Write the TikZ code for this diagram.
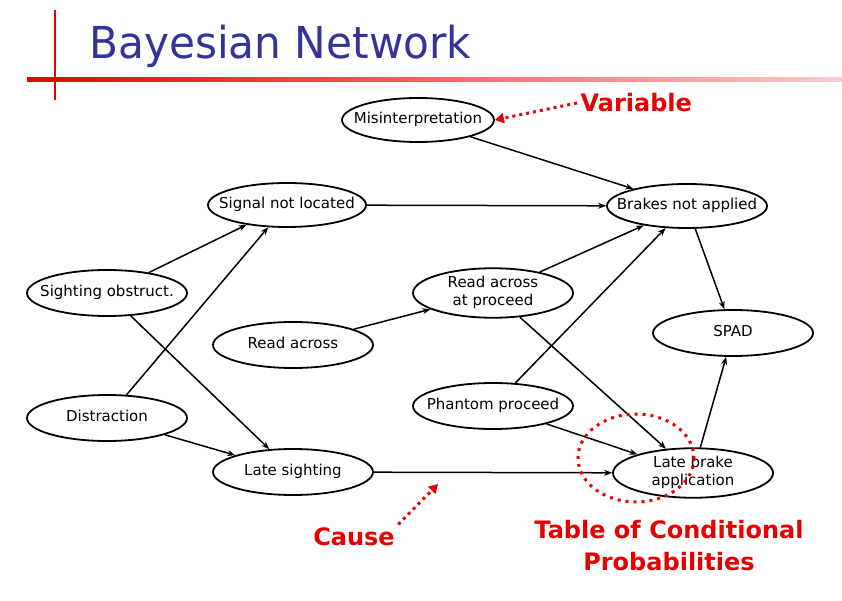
\documentclass[tikz,border=0pt]{standalone}
\usepackage{fontspec}
\setmainfont{DejaVu Sans}
\usetikzlibrary{shapes.geometric,arrows.meta}
\definecolor{ttl}{RGB}{51,51,153}
\definecolor{ared}{RGB}{230,0,0}
\newcommand{\zw}[1]{\makebox[0pt]{\begin{tabular}{@{}c@{}}#1\end{tabular}}}
\tikzset{
  var/.style={draw,ellipse,line width=1.8pt,minimum width=160pt,minimum height=46pt,inner sep=0pt,font=\fontsize{15}{17.5}\selectfont},
  edge/.style={line width=1.5pt,-{Stealth[length=8pt,width=6pt]}},
  note/.style={text=ared,font=\bfseries\fontsize{24}{32}\selectfont,align=center},
  redarrow/.style={ared,line width=3pt,dash pattern=on 3pt off 4pt,-{Triangle[length=9pt,width=10pt]}}
}
\begin{document}
\begin{tikzpicture}[x=1pt,y=-1pt]
\useasboundingbox (0,0) rectangle (842,601);
% title decoration
\shade[left color=ared,right color=ared!20,middle color=ared!60] (27,78) rectangle (842,82);
\draw[ared,line width=2pt] (55,10) -- (55,100);
\node[anchor=base west,text=ttl,inner sep=0pt] (title) at (89,59) {\scalebox{0.96}[1]{\fontsize{44}{44}\selectfont Bayesian Network}};
% nodes
\node[var,minimum width=152pt,minimum height=44pt] (mis) at (418,120) {\zw{Misinterpretation}};
\node[var,minimum width=158pt,minimum height=44pt] (sig) at (287,205) {\zw{Signal not located}};
\node[var,minimum width=160pt,minimum height=44pt] (bra) at (687,206) {\zw{Brakes not applied}};
\node[var] (sob) at (107,293) {\zw{Sighting obstruct.}};
\node[var] (rap) at (493,293) {\zw{Read across\\at proceed}};
\node[var] (rac) at (293,345) {\zw{Read across}};
\node[var] (spad) at (733,333) {\zw{SPAD}};
\node[var] (dis) at (107,418) {\zw{Distraction}};
\node[var] (pha) at (493,406) {\zw{Phantom proceed}};
\node[var] (lsi) at (293,472) {\zw{Late sighting}};
\node[var] (lba) at (693,473) {\zw{Late brake\\application}};
% edges
\draw[edge] (mis) -- (bra);
\draw[edge] (sig) -- (bra);
\draw[edge] (sob) -- (sig);
\draw[edge] (sob) -- (lsi);
\draw[edge] (dis) -- (sig);
\draw[edge] (dis) -- (lsi);
\draw[edge] (rac) -- (rap);
\draw[edge] (rap) -- (bra);
\draw[edge] (rap) -- (lba);
\draw[edge] (pha) -- (bra);
\draw[edge] (pha) -- (lba);
\draw[edge] (lsi) -- (lba);
\draw[edge] (bra) -- (spad);
\draw[edge] (lba) -- (spad);
% annotations
\node[note,anchor=west] (varl) at (577,103) {Variable};
\draw[redarrow] (varl.west) -- (mis.east);
\node[note] (cause) at (354,537) {Cause};
\coordinate (causetip) at (438,484);
\draw[redarrow] (cause.north east) -- (causetip);
\node[note] (tab) at (669,546) {Table of Conditional\\Probabilities};
\draw[ared,line width=3pt,dash pattern=on 3pt off 5pt] (636,458) ellipse [x radius=58,y radius=44];
\end{tikzpicture}
\end{document}
